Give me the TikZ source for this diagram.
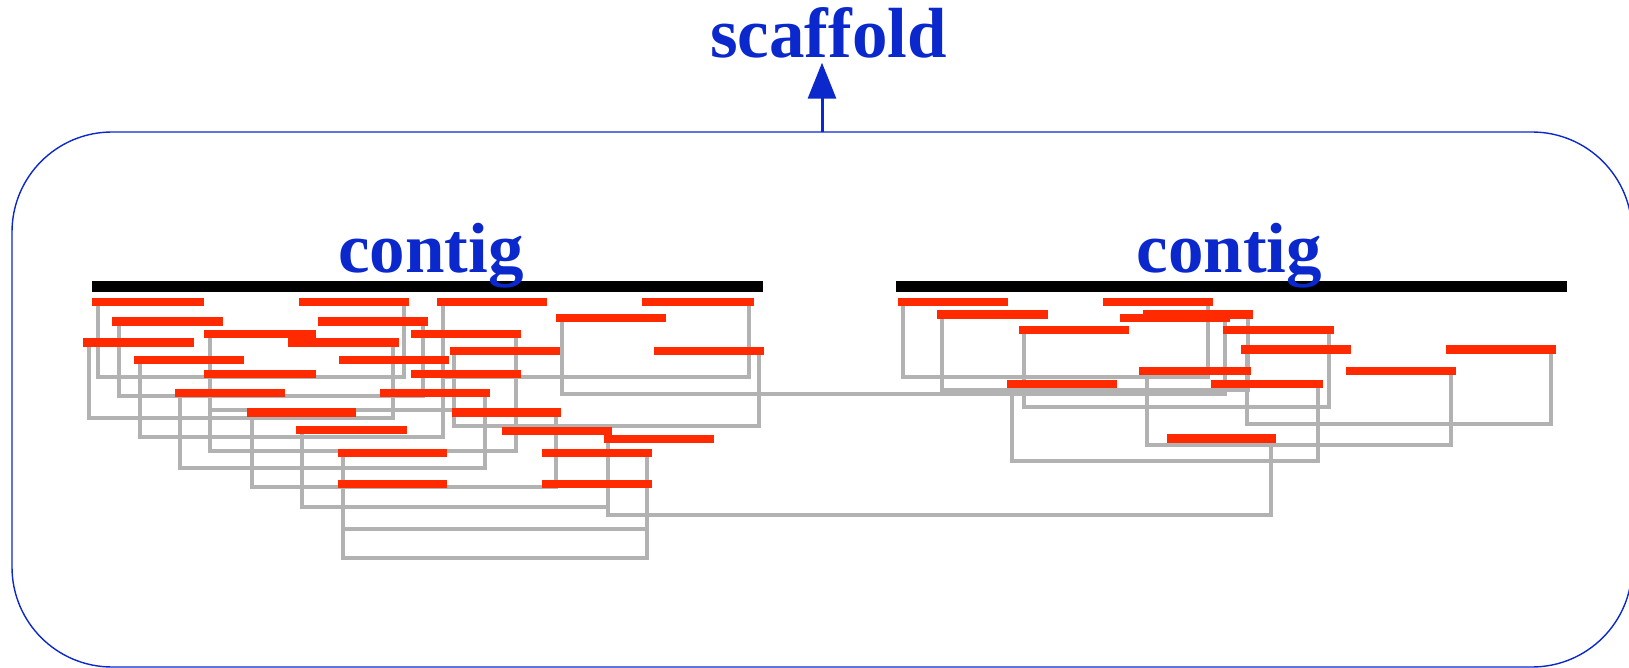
\documentclass[tikz,border=0pt]{standalone}
\usepackage{fontspec}
\setmainfont{Liberation Serif}
\usetikzlibrary{arrows.meta}
\definecolor{rdc}{RGB}{255,42,0}
\definecolor{lkc}{RGB}{178,178,178}
\definecolor{blc}{RGB}{10,40,204}
\pgfdeclarelayer{bg}
\pgfsetlayers{bg,main}
\tikzset{
  rd/.style={fill=rdc, draw=none, inner sep=0pt, outer sep=0pt, minimum height=4.25pt},
  lk/.style={draw=lkc, line width=1.6pt},
  ctg/.style={fill=black, draw=none, inner sep=0pt, outer sep=0pt, minimum height=5.5pt},
  lbl/.style={text=blc, font=\fontsize{35.5}{40}\selectfont\bfseries, inner sep=0pt, outer sep=0pt, anchor=base}
}
\newcommand\rd[4]{\node[rd, minimum width={(#3-#2)*0.5pt}] (#1) at ({(#2+#3)/2},#4) {};}
\newcommand\mate[5]{\draw[lk] (#1.center -| #2,0) -- (#2,#5) -- (#4,#5) -- (#3.center -| #4,0);}
\begin{document}
\begin{tikzpicture}[x=0.5pt,y=-0.5pt]
\useasboundingbox (0,0) rectangle (1629,668);
% scaffold box
\node[draw=blc, line width=0.7pt, rounded corners=50pt, minimum width=810pt, minimum height=267.5pt, inner sep=0pt, outer sep=0pt] (box) at (822,399.5) {};
\node[lbl] (title) at (828.5,58) {scaffold};
\draw[blc, line width=1.5pt, -{Triangle[length=18pt,width=14pt]}] (box.north) -- ([yshift=-2pt]title.south -| box.north);
% left contig reads
\rd{a1}{92}{204}{302}
\rd{a2}{299}{409}{302}
\rd{a3}{437}{547}{302}
\rd{p1}{642}{754}{302}
\rd{p2}{556}{666}{318}
\rd{b1}{112}{223}{321.5}
\rd{b2}{318}{428}{321.5}
\rd{c1}{204}{316}{334}
\rd{c2}{411}{521}{334}
\rd{d1}{83}{194}{342.5}
\rd{d2}{288}{399}{342.5}
\rd{e1}{450}{560}{351}
\rd{p3}{654}{764}{351}
\rd{f1}{134}{244}{360}
\rd{f2}{339}{449}{360}
\rd{g1}{204}{316}{374}
\rd{g2}{411}{521}{374}
\rd{h1}{175}{285}{393}
\rd{h2}{380}{490}{393}
\rd{i1}{247}{356}{412.5}
\rd{i2}{452}{561}{412.5}
\rd{j1}{296}{407}{430}
\rd{j2}{502}{612}{431}
\rd{k1}{604}{714}{439}
\rd{l1}{338}{447}{453}
\rd{l2}{542}{652}{453}
\rd{m1}{338}{447}{484}
\rd{m2}{542}{652}{484}
% right contig reads
\rd{r1}{898}{1008}{302}
\rd{r2}{1103}{1213}{302}
\rd{r3}{937}{1048}{314.5}
\rd{r5}{1143}{1253}{314.5}
\rd{r4}{1120}{1230}{318}
\rd{r6}{1019}{1129}{330}
\rd{r7}{1223}{1334}{330}
\rd{r8}{1241}{1351}{349.5}
\rd{r9}{1446}{1556}{349.5}
\rd{r10}{1139}{1251}{371}
\rd{r11}{1346}{1456}{371}
\rd{r12}{1007}{1117}{384}
\rd{r13}{1211}{1323}{384}
\rd{r14}{1167}{1276}{438.5}
% mate links
\begin{pgfonlayer}{bg}
\mate{a1}{98}{a2}{404}{377}
\mate{a3}{443}{p1}{749}{377}
\mate{b1}{119}{b2}{423}{396}
\mate{d1}{89}{d2}{393}{418}
\mate{f1}{140}{f2}{443}{437}
\mate{c1}{210}{c2}{516}{451}
\mate{g1}{210}{g2}{516}{410}
\mate{e1}{454}{p3}{759}{426}
\mate{p2}{562}{r4}{1225}{394}
\mate{h1}{180}{h2}{485}{468}
\mate{i1}{252}{i2}{556}{487}
\mate{j1}{302}{j2}{608}{507}
\mate{k1}{608}{r14}{1271}{515}
\mate{l1}{343}{l2}{647}{558}
\mate{m1}{343}{m2}{647}{529}
\mate{r1}{903}{r2}{1208}{377}
\mate{r3}{942}{r5}{1248}{390}
\mate{r6}{1024}{r7}{1329}{407}
\mate{r8}{1247}{r9}{1551}{424}
\mate{r10}{1147}{r11}{1451}{445}
\mate{r12}{1012}{r13}{1318}{461}
\end{pgfonlayer}
% contigs
\node[ctg, minimum width=335.5pt] (cl) at (427.5,286.5) {};
\node[ctg, minimum width=335.5pt] (cr) at (1231.5,286.5) {};
\node[lbl] (tl) at (431,273) {contig};
\node[lbl] (tr) at (1229.5,273) {contig};
\end{tikzpicture}
\end{document}
